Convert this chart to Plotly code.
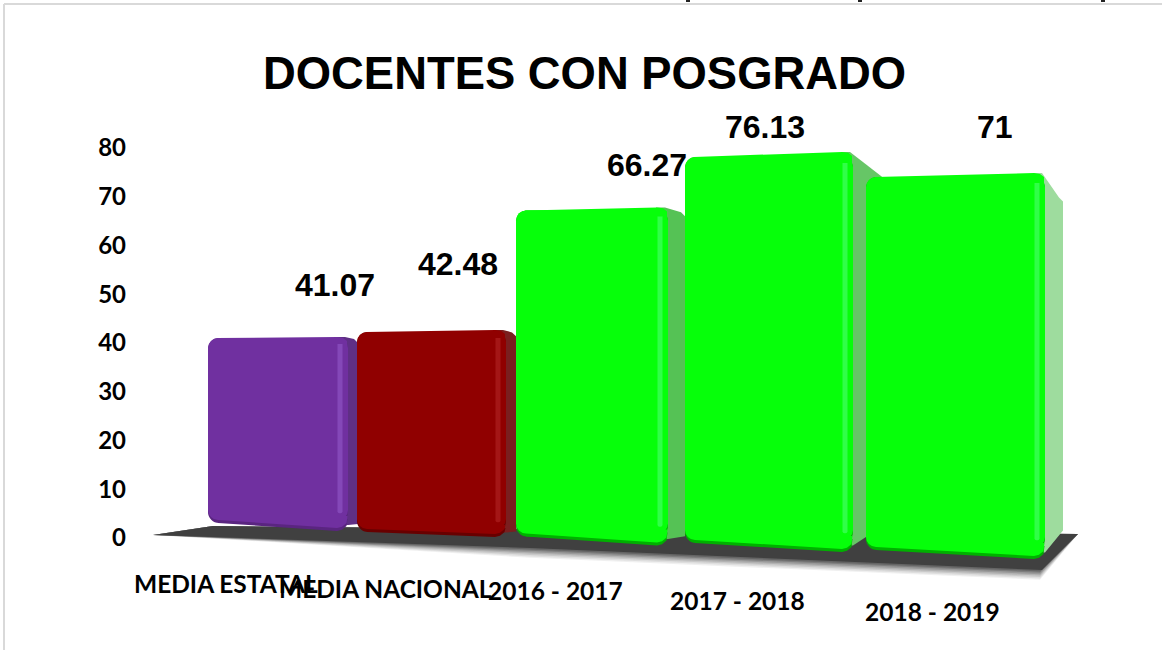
import plotly.graph_objects as go

# ---- data ----
categories = ["MEDIA ESTATAL", "MEDIA NACIONAL", "2016 - 2017", "2017 - 2018", "2018 - 2019"]
values = [41.07, 42.48, 66.27, 76.13, 71]
value_labels = ["41.07", "42.48", "66.27", "76.13", "71"]
y_ticks = [0, 10, 20, 30, 40, 50, 60, 70, 80]
title_text = "DOCENTES CON POSGRADO"

# ---- perspective look of the 3-D original ----
perspective = [0.946, 0.983, 1.028, 1.059, 1.096]
floor_base = [2.26, 0.72, -0.62, -1.95, -3.38]
bar_left = [208, 357, 516, 685, 866]
bar_right = [348, 506, 668, 853, 1045]
side_dx = [10, 10, 17, 32, 18]
side_dy = [0.6, 0.6, 1.0, 4.7, 4.9]
top_tilt_px = [1, 2, 3, 5, 4]
bottom_tilt_px = [8, 5, 9, 9, 9]
face_colors = ["#7030A0", "#900000", "#06FF0A", "#06FF0A", "#06FF0A"]
edge_colors = ["#5A2580", "#680000", "#00B000", "#00B000", "#00B000"]
shine_colors = ["#8448B8", "#A41616", "#30FF48", "#30FF48", "#30FF48"]
side_colors = ["#5F2F85", "#7A1F1F", "#55C255", "#66C666", "#9EDC9E"]
label_xy = [(335, 285), (458, 264), (647, 165), (765, 127), (995, 127)]
cat_xy = [(226, 583), (385, 588), (555, 590), (737, 600), (932, 611)]
clip_marks_x = [688, 860, 1103]

W, H = 1162, 650
PX_PER_UNIT = 4.875
Y0_PX = 538
y_range = [(Y0_PX - H) / PX_PER_UNIT, Y0_PX / PX_PER_UNIT]


def poly(points):
    return "M" + " L".join(f"{x / W:.5f},{1 - y / H:.5f}" for x, y in points) + " Z"


fig = go.Figure()
tops = [b + v * p for v, p, b in zip(values, perspective, floor_base)]
u = 1 / PX_PER_UNIT

# side faces (lower subplot layer)
for i in range(5):
    xr, dx, dy = bar_right[i], side_dx[i], side_dy[i]
    fig.add_trace(go.Scatter(
        x=[xr - 12, xr - 3, xr + dx - 4, xr + dx, xr + dx, xr, xr - 12],
        y=[tops[i] + top_tilt_px[i] * u / 2, tops[i] + top_tilt_px[i] * u / 2, tops[i] - dy + 0.3, tops[i] - dy - 0.5,
           floor_base[i] + dy, floor_base[i] + 0.4, floor_base[i] + 0.4],
        mode="lines", line=dict(width=0), fill="toself", fillcolor=side_colors[i],
        hoverinfo="skip", showlegend=False, xaxis="x", yaxis="y"))

# flat part of each bar: from the left end of the sloped bottom to the left end of the sloped top
bar_low = [b + t * u / 2 for b, t in zip(floor_base, bottom_tilt_px)]
bar_high = [t - k * u / 2 for t, k in zip(tops, top_tilt_px)]


def bar_layer(inset_bot, colors, radius):
    fig.add_trace(go.Bar(
        x=[(l + r) / 2 for l, r in zip(bar_left, bar_right)],
        width=[r - l for l, r in zip(bar_left, bar_right)],
        base=[b + inset_bot * u for b in bar_low],
        y=[t - b - inset_bot * u for t, b in zip(bar_high, bar_low)],
        marker=dict(color=colors, cornerradius=radius, line=dict(width=0)),
        hoverinfo="skip", showlegend=False, xaxis="x2", yaxis="y2"))


bar_layer(0, edge_colors, 11)          # dark rim
bar_layer(3, face_colors, 10)          # main face
fig.add_trace(go.Bar(                   # light vertical bevel on the right
    x=[r - 8 for r in bar_right], width=[5] * 5,
    base=[b + 2.0 for b in bar_low],
    y=[t - b - 2.8 for t, b in zip(bar_high, bar_low)],
    marker=dict(color=shine_colors, cornerradius=2, line=dict(width=0)),
    hoverinfo="skip", showlegend=False, xaxis="x2", yaxis="y2"))

# sloped top and bottom edges of the faces
for i in range(5):
    l, r = bar_left[i], bar_right[i]
    # top wedge
    fig.add_trace(go.Scatter(
        x=[l + 9, r - 11, r - 5, r - 1, r - 1, l + 9],
        y=[bar_high[i], bar_high[i] + top_tilt_px[i] * u, bar_high[i] + (top_tilt_px[i] - 0.8) * u,
           bar_high[i] + (top_tilt_px[i] - 4) * u, bar_high[i] - 6 * u, bar_high[i] - 6 * u],
        mode="lines", line=dict(width=0), fill="toself", fillcolor=face_colors[i],
        hoverinfo="skip", showlegend=False, xaxis="x2", yaxis="y2"))
    # bottom wedges: rim, then face
    for inset, color in ((0, edge_colors[i]), (3, face_colors[i])):
        low = bar_low[i] + inset * u
        drop = bottom_tilt_px[i] * u
        fig.add_trace(go.Scatter(
            x=[l + 10, r - 11, r - 6, r - 1.5, r - 0.5, l + 10],
            y=[low, low - drop, low - drop + 1.2 * u, low - drop + 5 * u, low + 4 * u, low + 4 * u],
            mode="lines", line=dict(width=0), fill="toself", fillcolor=color,
            hoverinfo="skip", showlegend=False, xaxis="x2", yaxis="y2"))

# floor
shapes = []
for k, op in enumerate([0.08, 0.10, 0.13, 0.17, 0.22, 0.30, 0.40]):
    off = (7 - k) * 1.4
    shapes.append(dict(type="path", xref="paper", yref="paper", layer="below",
                       path=poly([(153, 535), (530, 548 + off), (1040, 570 + off), (1078, 534), (213, 526)]),
                       fillcolor=f"rgba(64,64,64,{op})", line=dict(width=0)))
shapes.append(dict(type="path", xref="paper", yref="paper", layer="below",
                   path=poly([(153, 535), (213, 526), (1078, 534), (1042, 570), (530, 548)]),
                   fillcolor="#404040", line=dict(width=0)))
# frame of the original picture
shapes.append(dict(type="line", xref="paper", yref="paper", x0=4 / W, x1=1, y0=1 - 4 / H, y1=1 - 4 / H,
                   line=dict(color="#D9D9D9", width=2)))
shapes.append(dict(type="line", xref="paper", yref="paper", x0=4 / W, x1=4 / W, y0=0, y1=1 - 4 / H,
                   line=dict(color="#D9D9D9", width=2)))
# clipped descenders at the very top edge of the original picture
for mx in clip_marks_x:
    shapes.append(dict(type="rect", xref="paper", yref="paper", x0=(mx - 2) / W, x1=(mx + 2) / W,
                       y0=1 - 2 / H, y1=1, fillcolor="#222222", line=dict(width=0)))

annotations = [dict(text=title_text, x=584 / W, y=1 - 73 / H, xref="paper", yref="paper", showarrow=False,
                    xanchor="center", yanchor="middle",
                    font=dict(family="Liberation Sans", size=45.4, color="#000000", weight="bold"))]
for t, (x, y) in zip(value_labels, label_xy):
    annotations.append(dict(text=t, x=x / W, y=1 - y / H, xref="paper", yref="paper", showarrow=False,
                            xanchor="center", yanchor="middle",
                            font=dict(family="Liberation Sans", size=32, color="#000000", weight="bold")))
for t, (x, y) in zip(categories, cat_xy):
    annotations.append(dict(text=t, x=x / W, y=1 - y / H, xref="paper", yref="paper", showarrow=False,
                            xanchor="center", yanchor="middle",
                            font=dict(family="Lato", size=24.5, color="#000000", weight="bold")))

fig.update_layout(
    width=W, height=H, margin=dict(l=0, r=0, t=0, b=0),
    paper_bgcolor="white", plot_bgcolor="rgba(0,0,0,0)",
    barmode="overlay", showlegend=False, shapes=shapes, annotations=annotations,
    xaxis=dict(range=[0, W], visible=False, fixedrange=True),
    xaxis2=dict(range=[0, W], visible=False, fixedrange=True, overlaying="x"),
    yaxis=dict(range=y_range, anchor="free", position=126 / W, tickmode="array",
               tickvals=y_ticks, ticktext=[str(t) for t in y_ticks],
               showgrid=False, zeroline=False, showline=False, ticks="", ticklen=0,
               tickfont=dict(family="Lato", size=24, color="#000000", weight="bold"),
               fixedrange=True),
    yaxis2=dict(range=y_range, visible=False, fixedrange=True, overlaying="y"),
)

fig.write_html("out.html", config=dict(displayModeBar=False),
               post_script="document.body.style.margin='0';")
